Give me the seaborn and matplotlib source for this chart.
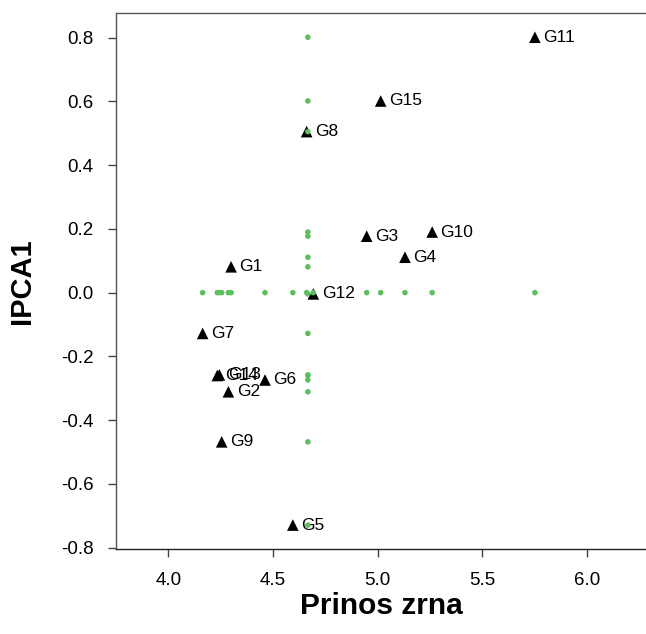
import matplotlib
matplotlib.use("Agg")
import matplotlib.pyplot as plt
import numpy as np
import pandas as pd
import seaborn as sns

# Genotypes: mean grain yield and first interaction principal component score
genotypes = ["G1", "G2", "G3", "G4", "G5", "G6", "G7", "G8",
             "G9", "G10", "G11", "G12", "G13", "G14", "G15"]
yield_mean = [4.300, 4.287, 4.948, 5.131, 4.595, 4.462, 4.164, 4.661,
              4.255, 5.261, 5.752, 4.693, 4.244, 4.234, 5.015]
ipca1 = [0.081, -0.311, 0.177, 0.111, -0.729, -0.274, -0.128, 0.505,
         -0.468, 0.190, 0.801, -0.004, -0.258, -0.260, 0.601]

df = pd.DataFrame({"genotype": genotypes, "yield": yield_mean, "ipca1": ipca1})
grand_mean = df["yield"].mean()

# Projections of each genotype onto the grand-mean axis and the zero-IPCA axis
proj = pd.concat([
    pd.DataFrame({"x": grand_mean, "y": df["ipca1"]}),
    pd.DataFrame({"x": df["yield"], "y": 0.0}),
], ignore_index=True)

sns.set_style("white")
plt.rcParams["font.family"] = ["Liberation Sans", "DejaVu Sans"]
plt.rcParams["text.color"] = "black"
plt.rcParams["axes.labelcolor"] = "black"

fig = plt.figure(figsize=(6.46, 6.34), dpi=100)
ax = fig.add_axes([0.1796, 0.1336, 0.8204, 0.8459])

sns.scatterplot(data=df, x="yield", y="ipca1", marker="^", s=70,
                color="black", edgecolor="none", ax=ax, zorder=3)

for g, x, y in zip(df["genotype"], df["yield"], df["ipca1"]):
    ax.annotate(g, (x, y), xytext=(6, 0), textcoords="offset points",
                ha="left", va="center", fontsize=12.5, color="black", zorder=4)

sns.scatterplot(data=proj, x="x", y="y", s=16, color="#5cbf5c",
                edgecolor="none", ax=ax, zorder=5)

ax.set_xlim(3.75, 6.283)
ax.set_ylim(-0.805, 0.877)
ax.set_xticks([4.0, 4.5, 5.0, 5.5, 6.0])
ax.set_yticks([-0.8, -0.6, -0.4, -0.2, 0.0, 0.2, 0.4, 0.6, 0.8])
ax.set_xticklabels([f"{v:.1f}" for v in ax.get_xticks()])
ax.set_yticklabels([f"{v:.1f}" for v in ax.get_yticks()])

ax.spines["right"].set_visible(False)
ax.spines["left"].set_color("#555555")
ax.spines["top"].set_color("#555555")
ax.spines["bottom"].set_color("#222222")
for side in ("left", "bottom", "top"):
    ax.spines[side].set_linewidth(1.0)

ax.tick_params(axis="both", which="major", direction="out", length=6,
               width=1.0, color="#444444", labelsize=13.5, labelcolor="black",
               bottom=True, left=True, top=False, right=False)
ax.tick_params(axis="y", pad=10)
ax.tick_params(axis="x", pad=10.5)

ax.set_xlabel("Prinos zrna", fontsize=21.5, fontweight="bold", labelpad=2)
ax.set_ylabel("IPCA1", fontsize=21, fontweight="bold", labelpad=18)

fig.savefig("out.png", dpi=100)
